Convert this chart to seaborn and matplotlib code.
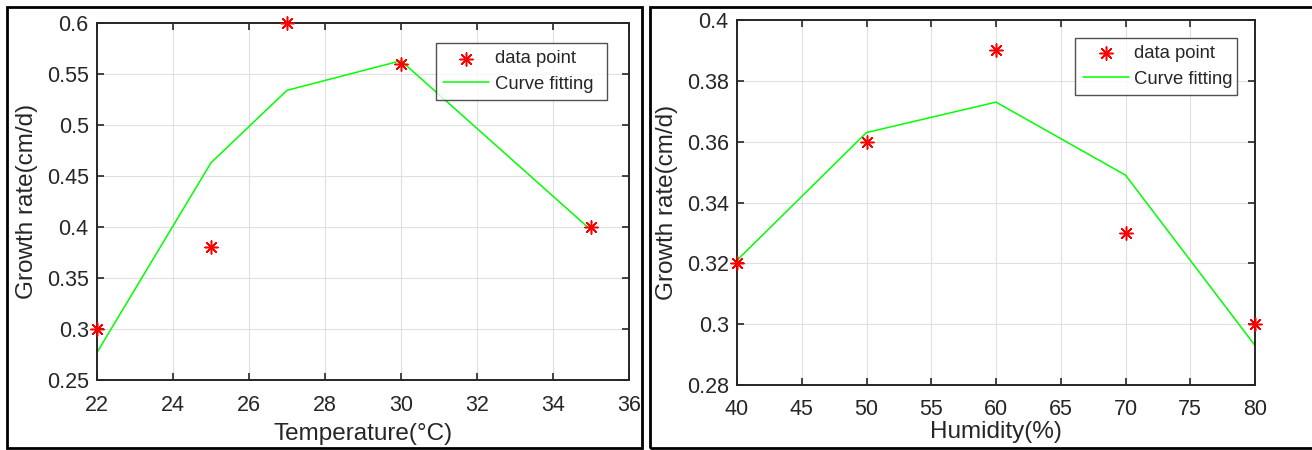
import matplotlib
matplotlib.use("Agg")
import matplotlib.pyplot as plt
import seaborn as sns
import pandas as pd
from matplotlib.patches import Rectangle

# ---- data ----
temperature = [22, 25, 27, 30, 35]
temp_growth = [0.30, 0.38, 0.60, 0.56, 0.40]
temp_fit = [0.277, 0.463, 0.534, 0.563, 0.397]

humidity = [40, 50, 60, 70, 80]
hum_growth = [0.32, 0.36, 0.39, 0.33, 0.30]
hum_fit = [0.321, 0.363, 0.373, 0.349, 0.293]

temp_xticks = [22, 24, 26, 28, 30, 32, 34, 36]
temp_yticks = [0.25, 0.3, 0.35, 0.4, 0.45, 0.5, 0.55, 0.6]
hum_xticks = [40, 45, 50, 55, 60, 65, 70, 75, 80]
hum_yticks = [0.28, 0.3, 0.32, 0.34, 0.36, 0.38, 0.4]

sns.set_theme(style="whitegrid")
plt.rcParams['font.family'] = ['Liberation Sans', 'DejaVu Sans']

W, H = 1312, 450
fig = plt.figure(figsize=(W / 100, H / 100), dpi=100)
fig.patch.set_facecolor('white')

TXT = '#262626'
ASTER = (8, 2, 0)


def px_axes(x0, y0, x1, y1):
    return fig.add_axes([x0 / W, 1 - y1 / H, (x1 - x0) / W, (y1 - y0) / H])


def style(ax, xticks, yticks, xlabel, legend_box, xlabelpad, xtickpad):
    ax.set_xticks(xticks)
    ax.set_yticks(yticks)
    ax.set_xticklabels([f"{v:g}" for v in xticks])
    ax.set_yticklabels([f"{v:g}" for v in yticks])
    ax.set_xlim(xticks[0], xticks[-1])
    ax.set_ylim(yticks[0], yticks[-1])
    ax.set_facecolor('white')
    ax.grid(True, color='#e0e0e0', linewidth=0.8)
    for s in ax.spines.values():
        s.set_visible(True)
        s.set_color(TXT)
        s.set_linewidth(1.4)
    ax.tick_params(direction='in', length=5, width=1.2, color=TXT,
                   labelsize=15.5, labelcolor=TXT, top=True, right=True,
                   bottom=True, left=True)
    ax.tick_params(axis='x', pad=xtickpad)
    ax.tick_params(axis='y', pad=6)
    ax.set_xlabel(xlabel, fontsize=17.5, color=TXT, labelpad=xlabelpad)
    ax.set_ylabel('Growth rate(cm/d)', fontsize=17.5, color=TXT, labelpad=6)
    leg = ax.legend(loc='upper left', bbox_to_anchor=legend_box, mode='expand',
                    frameon=True, fancybox=False, fontsize=13.3, handlelength=2.5,
                    borderaxespad=0, borderpad=0.4, labelspacing=0.45,
                    handletextpad=0.3)
    leg.get_frame().set_edgecolor(TXT)
    leg.get_frame().set_linewidth(1.0)
    for t in leg.get_texts():
        t.set_color(TXT)


# left panel
ax1 = px_axes(97, 23, 629, 380)
df1 = pd.DataFrame({'x': temperature, 'y': temp_growth, 'fit': temp_fit})
sns.scatterplot(data=df1, x='x', y='y', ax=ax1, marker=ASTER, s=90, color='red',
                edgecolor='red', linewidth=1.1, label='data point', zorder=3, clip_on=False)
sns.lineplot(data=df1, x='x', y='fit', ax=ax1, color='#00ff00', linewidth=1.1,
             label='Curve fitting', zorder=2)
style(ax1, temp_xticks, temp_yticks, 'Temperature(°C)',
      (0.637, 0.944, 0.321, 0.0), xlabelpad=5, xtickpad=11)

# right panel
ax2 = px_axes(737, 20, 1255, 385)
df2 = pd.DataFrame({'x': humidity, 'y': hum_growth, 'fit': hum_fit})
sns.scatterplot(data=df2, x='x', y='y', ax=ax2, marker=ASTER, s=90, color='red',
                edgecolor='red', linewidth=1.1, label='data point', zorder=3, clip_on=False)
sns.lineplot(data=df2, x='x', y='fit', ax=ax2, color='#00ff00', linewidth=1.1,
             label='Curve fitting', zorder=2)
style(ax2, hum_xticks, hum_yticks, 'Humidity(%)',
      (0.653, 0.951, 0.312, 0.0), xlabelpad=1, xtickpad=10)

# panel frames
fig.add_artist(Rectangle((7 / W, 1 - 448 / H), (642 - 7) / W, (448 - 7) / H,
                         transform=fig.transFigure, fill=False, edgecolor='black',
                         linewidth=2.0))
fig.add_artist(Rectangle((650 / W, 1 - 448 / H), (1320 - 650) / W, (448 - 7) / H,
                         transform=fig.transFigure, fill=False, edgecolor='black',
                         linewidth=2.0, clip_on=False))

fig.savefig('out.png', dpi=100, facecolor='white')
